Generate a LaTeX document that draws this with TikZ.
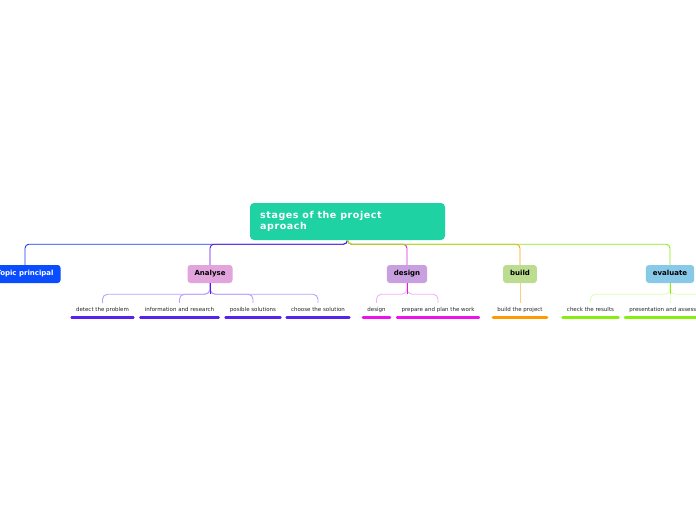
\documentclass[tikz,border=0pt]{standalone}
\usepackage{fontspec}
\setmainfont{DejaVu Sans}
\newfontfamily\titlefont[LetterSpace=6]{DejaVu Sans Bold}
\definecolor{cteal}{HTML}{1ED2A4}
\definecolor{ctopic}{HTML}{0A4CFF}
\definecolor{ltopic}{HTML}{1A3EE8}
\definecolor{fana}{HTML}{E2A4DC}
\definecolor{lana}{HTML}{6010E8}
\definecolor{fdes}{HTML}{C8A0E0}
\definecolor{ldes}{HTML}{E020E0}
\definecolor{fbui}{HTML}{BCDC90}
\definecolor{lbui}{HTML}{FFA010}
\definecolor{feva}{HTML}{88C8E8}
\definecolor{leva}{HTML}{88EE10}
\definecolor{bana}{HTML}{5522EE}
\definecolor{sana}{HTML}{B8A0FF}
\definecolor{bdes}{HTML}{EE10EE}
\definecolor{sdes}{HTML}{F4B0F8}
\definecolor{bbui}{HTML}{FF9A00}
\definecolor{sbui}{HTML}{FFCC80}
\definecolor{beva}{HTML}{88EE10}
\definecolor{seva}{HTML}{DDFFB8}
\tikzset{
  mainbox/.style={rounded corners=3pt, minimum height=18pt, inner xsep=7pt, inner ysep=0pt,
    text height=5.2pt, text depth=1.4pt,
    font=\fontsize{7}{8}\selectfont\bfseries, text=black},
  subitem/.style={minimum height=14pt, inner xsep=5.5pt, inner ysep=0pt,
    text height=4.1pt, text depth=1.1pt,
    font=\fontsize{5.5}{6.5}\selectfont, text=black!85},
  conn/.style={line width=0.9pt, rounded corners=4pt},
  subconn/.style={line width=0.9pt, rounded corners=5pt},
  bar/.style={line width=2.6pt, line cap=round, shorten >=1.3pt, shorten <=1.3pt},
}
\begin{document}
\begin{tikzpicture}[x=1pt,y=-1pt]
\useasboundingbox (0,0) rectangle (696,520);
\fill[white] (0,0) rectangle (696,520);

% central node
\node[fill=cteal, rounded corners=4pt, minimum width=195pt, minimum height=37pt,
      inner sep=0pt] (root) at (347.5,221.5) {};
\node[anchor=west, align=left, text=white, font=\fontsize{9.5}{11}\titlefont,
      inner sep=0pt] (title) at (260,221.5) {stages of the project\\aproach};

% main nodes
\node[mainbox, fill=ctopic, text=white] (topic) at (25,274) {Topic principal};
\node[mainbox, fill=fana] (ana) at (210,274) {Analyse};
\node[mainbox, fill=fdes] (des) at (407,274) {design};
\node[mainbox, fill=fbui] (bui) at (520,274) {build};
\node[mainbox, fill=feva] (eva) at (670,274) {evaluate};

% main connectors
\draw[conn, ltopic] (root.south) -- ++(0,4) -| (topic.north);
\draw[conn, lana] (root.south) -- ++(0,4) -| (ana.north);
\draw[conn, ldes] (root.south) -- ++(0,4) -| (des.north);
\draw[conn, lbui] (root.south) -- ++(0,4) -| (bui.north);
\draw[conn, leva] (root.south) -- ++(0,4) -| (eva.north);

% sub items
\node[subitem] (a1) at (102.5,310) {detect the problem};
\node[subitem] (a2) at (179.5,310) {information and research};
\node[subitem] (a3) at (253,310) {posible solutions};
\node[subitem] (a4) at (318,310) {choose the solution};
\node[subitem] (d1) at (376.5,310) {design};
\node[subitem] (d2) at (438,310) {prepare and plan the work};
\node[subitem] (b1) at (520,310) {build the project};
\node[subitem] (e1) at (590.5,310) {check the results};
\node[subitem] (e2) at (670,310) {presentation and assessment};

% sub connectors
\foreach \c in {a1,a2,a3,a4}
  \draw[subconn, sana] (ana.south) -- ++(0,11) -| (\c.north);
\draw[line width=0.9pt, lana] (ana.south) -- ++(0,11);
\foreach \c in {d1,d2}
  \draw[subconn, sdes] (des.south) -- ++(0,11) -| (\c.north);
\draw[line width=0.9pt, ldes] (des.south) -- ++(0,11);
\draw[line width=0.9pt, sbui] (bui.south) -- (b1.north);
\foreach \c in {e1,e2}
  \draw[subconn, seva] (eva.south) -- ++(0,11) -| (\c.north);
\draw[subconn, seva] (eva.south) -- ++(0,11) -- ++(40,0);
\draw[line width=0.9pt, leva] (eva.south) -- ++(0,11);

% bars
\foreach \c in {a1,a2,a3,a4}
  \draw[bar, bana] (\c.south west) -- (\c.south east);
\foreach \c in {d1,d2}
  \draw[bar, bdes] (\c.south west) -- (\c.south east);
\draw[bar, bbui] (b1.south west) -- (b1.south east);
\foreach \c in {e1,e2}
  \draw[bar, beva] (\c.south west) -- (\c.south east);
\end{tikzpicture}
\end{document}
